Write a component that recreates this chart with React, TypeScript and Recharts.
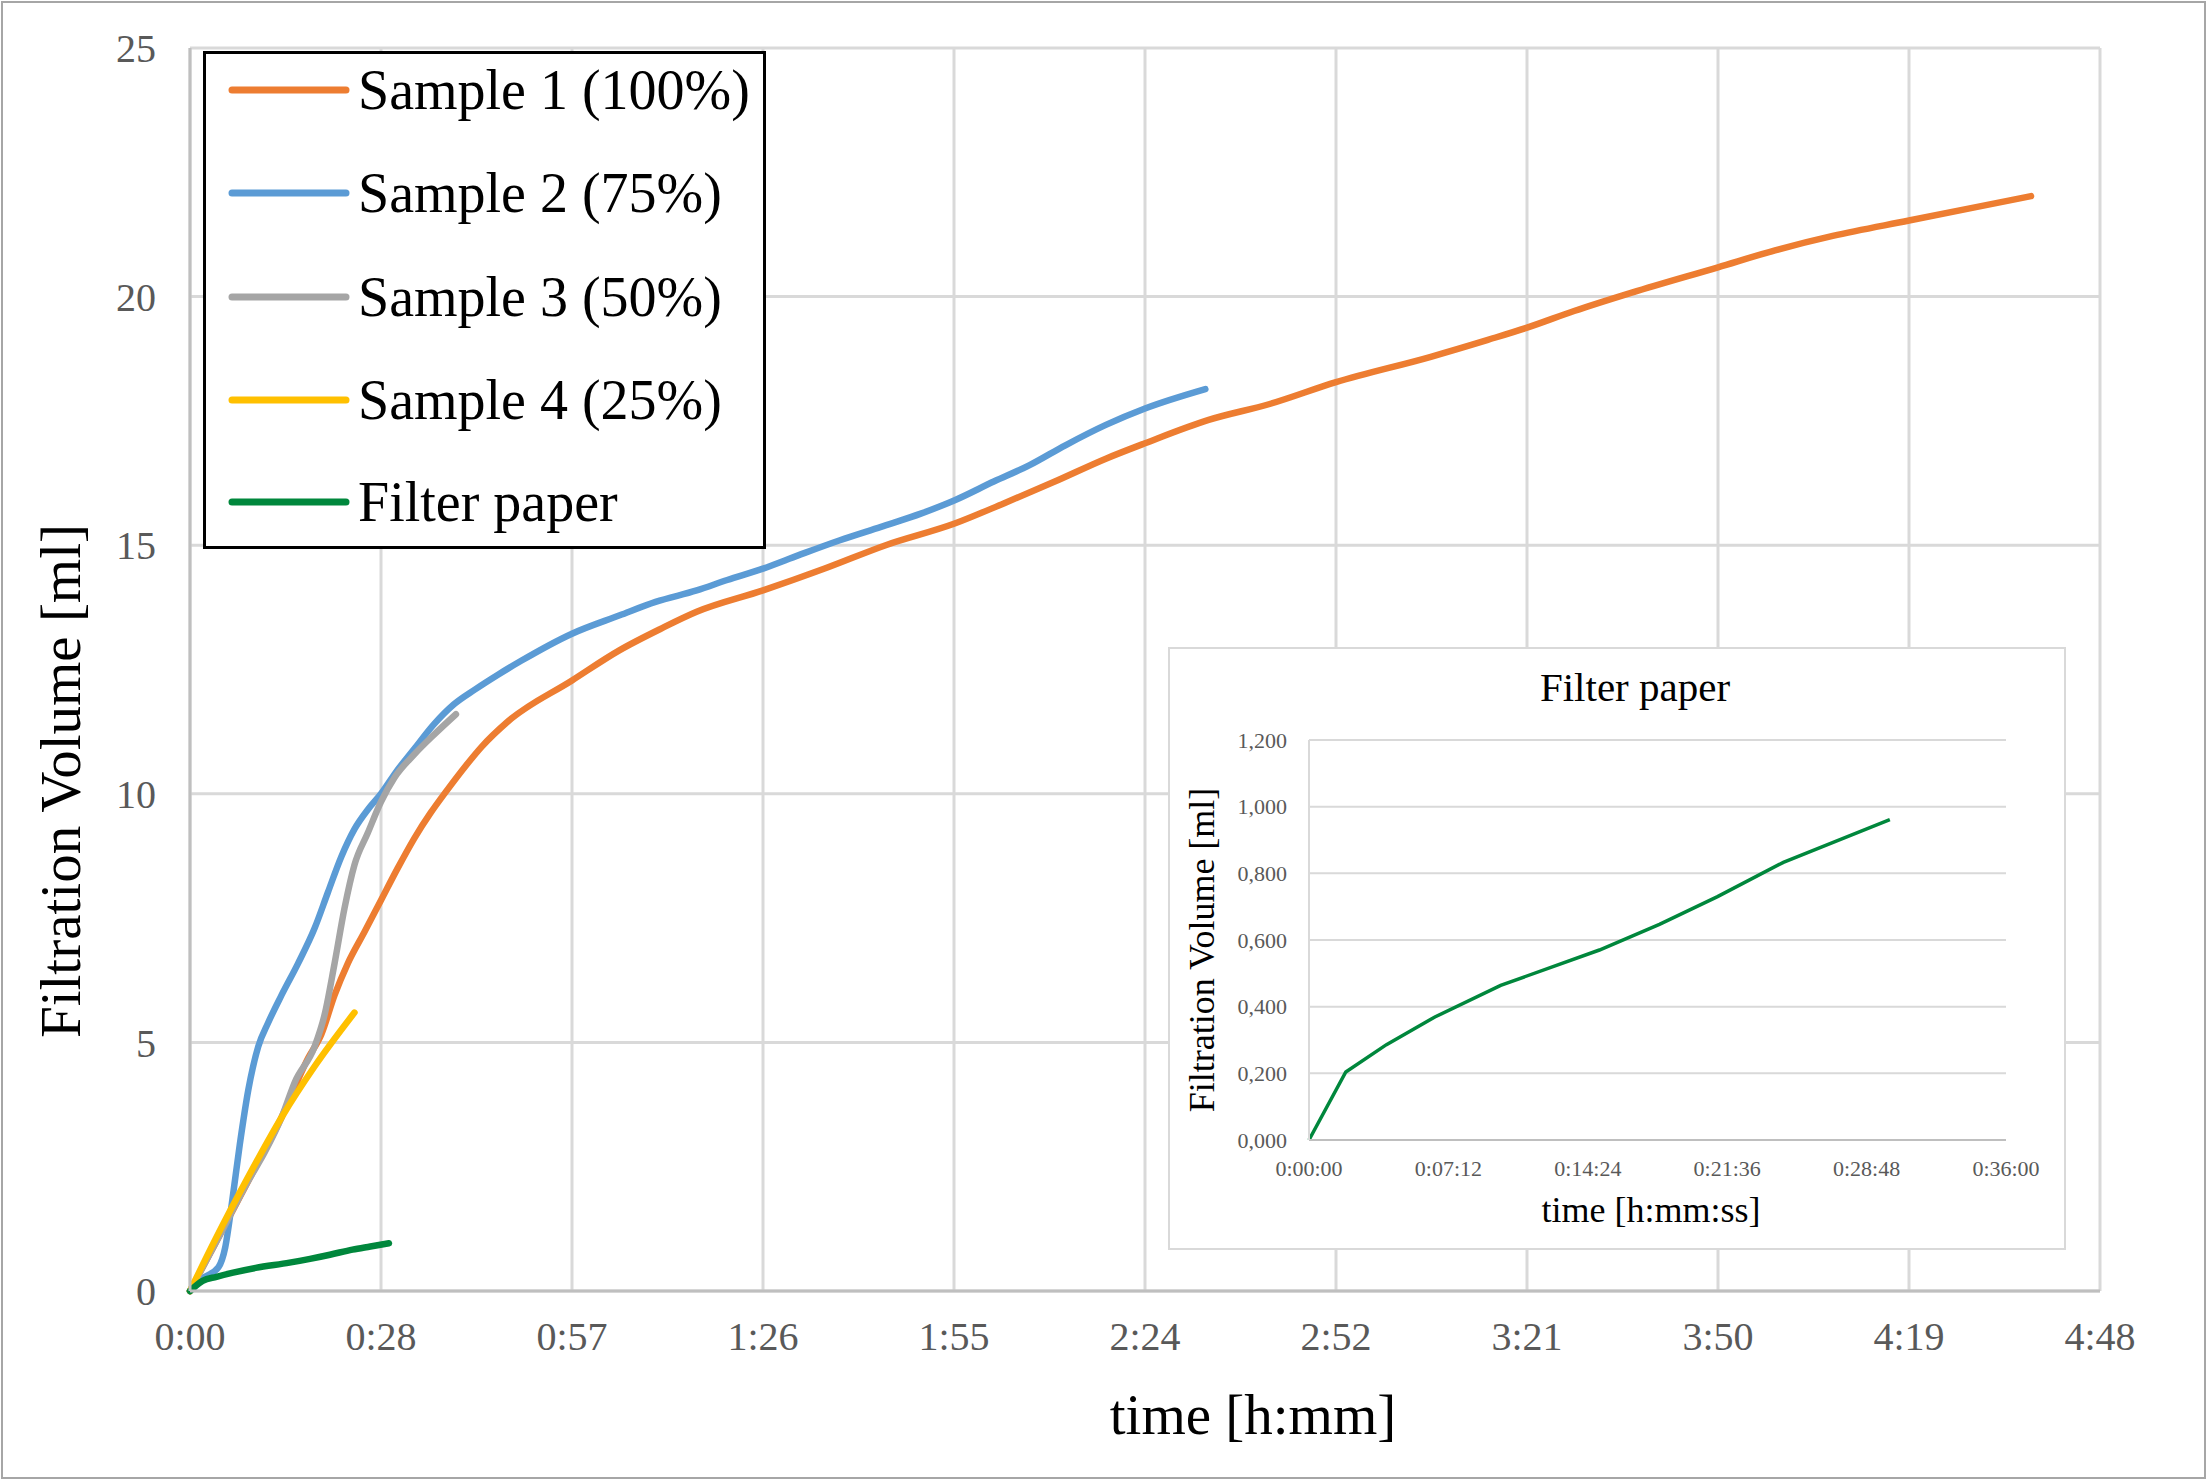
import { LineChart, Line, XAxis, YAxis, CartesianGrid } from 'recharts';

const FONT = "'Liberation Serif', 'Times New Roman', serif";

// time in minutes, volume in ml
const s1Time = [0, 3.8, 8.8, 13.8, 17.8, 19.8, 21.8, 23.8, 26.3, 28.8, 31.3, 33.8, 36.3, 38.8, 41.5, 44, 47.8, 57.6, 64.8, 71, 76.4, 86.4, 95.7, 104.9, 115.4, 122.7, 130.4, 138.1, 144, 153.6, 162.8, 172.8, 187.1, 195.7, 201.5, 208.7, 217.4, 230.4, 239, 247.7, 259.2, 269.3, 277.6];
const s1Vol = [0, 0.95, 2.22, 3.49, 4.68, 5.16, 5.95, 6.59, 7.22, 7.86, 8.5, 9.1, 9.62, 10.08, 10.55, 10.95, 11.44, 12.28, 12.89, 13.32, 13.66, 14.09, 14.53, 15.0, 15.44, 15.84, 16.28, 16.74, 17.05, 17.52, 17.84, 18.28, 18.79, 19.13, 19.37, 19.71, 20.08, 20.59, 20.93, 21.22, 21.53, 21.8, 22.02];

const s2Time = [0, 1.75, 4.3, 5.3, 6.3, 7.5, 8.8, 10.3, 11.8, 13.8, 16.3, 18.8, 20.8, 22.8, 24.8, 26.8, 28.8, 31.3, 33.8, 36.8, 39.8, 43, 46.5, 50, 57.6, 64.8, 70.2, 76.4, 81, 86.4, 91.8, 98, 104.2, 110.3, 115.4, 121.2, 126.6, 132, 138.1, 144, 153.1];
const s2Vol = [0, 0.24, 0.48, 0.87, 1.75, 2.94, 4.05, 4.92, 5.4, 5.95, 6.59, 7.3, 8.02, 8.73, 9.29, 9.68, 10.0, 10.48, 10.9, 11.4, 11.8, 12.1, 12.4, 12.68, 13.22, 13.59, 13.86, 14.09, 14.3, 14.53, 14.8, 15.1, 15.37, 15.64, 15.91, 16.28, 16.61, 17.01, 17.42, 17.75, 18.14];

const s3Time = [0, 3.8, 8.8, 11.3, 13.8, 15.8, 18.8, 20.3, 21.8, 23.3, 24.8, 26.8, 28.8, 30.8, 33.8, 36.8, 40.1];
const s3Vol = [0, 0.95, 2.22, 2.8, 3.49, 4.2, 4.92, 5.56, 6.59, 7.7, 8.57, 9.21, 9.84, 10.32, 10.79, 11.19, 11.6];

const s4Time = [0, 3.8, 8.8, 13.8, 18.8, 24.8];
const s4Vol = [0, 1.03, 2.3, 3.49, 4.52, 5.6];

const paperTime = [0, 1.9, 4.0, 6.5, 9.9, 15.0, 18.1, 21.1, 24.5, 27.2, 30.0];
const paperVol = [0, 0.204, 0.286, 0.369, 0.464, 0.57, 0.647, 0.73, 0.833, 0.896, 0.961];

const seriesNames = ['Sample 1 (100%)', 'Sample 2 (75%)', 'Sample 3 (50%)', 'Sample 4 (25%)', 'Filter paper'];
const seriesColors = ['#ED7D31', '#5B9BD5', '#A5A5A5', '#FFC000', '#00873C'];

const xTicks = [0, 28.8, 57.6, 86.4, 115.2, 144, 172.8, 201.6, 230.4, 259.2, 288];
const yTicks = [0, 5, 10, 15, 20, 25];
const insetXTicks = [0, 7.2, 14.4, 21.6, 28.8, 36];
const insetYTicks = [0, 0.2, 0.4, 0.6, 0.8, 1.0, 1.2];

const zip = (t: number[], v: number[]) => t.map((x, i) => ({ t: x, v: v[i] }));

const series = [
  zip(s1Time, s1Vol),
  zip(s2Time, s2Vol),
  zip(s3Time, s3Vol),
  zip(s4Time, s4Vol),
  zip(paperTime, paperVol),
];

const fmtHM = (m: number) => {
  const h = Math.floor(m / 60);
  const mm = Math.floor(m % 60 + 1e-6);
  return `${h}:${String(mm).padStart(2, '0')}`;
};

const fmtHMS = (m: number) => {
  const s = Math.round(m * 60);
  const h = Math.floor(s / 3600);
  const mm = Math.floor((s % 3600) / 60);
  const ss = s % 60;
  return `${h}:${String(mm).padStart(2, '0')}:${String(ss).padStart(2, '0')}`;
};

const fmtComma = (v: number) => v.toFixed(3).replace('.', ',');

function Legend() {
  const rows = [39, 142, 246, 349, 451];
  return (
    <div
      style={{
        position: 'absolute',
        left: 203,
        top: 51,
        width: 563,
        height: 498,
        border: '3px solid #000',
        background: '#fff',
        boxSizing: 'border-box',
      }}
    >
      <svg width={557} height={492} style={{ position: 'absolute', left: 0, top: 0 }}>
        {seriesNames.map((name, i) => (
          <g key={name}>
            <line x1={26} x2={140} y1={rows[i] - 3} y2={rows[i] - 3} stroke={seriesColors[i]} strokeWidth={7} strokeLinecap="round" />
            <text x={152} y={rows[i] - 3} dominantBaseline="central" fontFamily={FONT} fontSize={56} fill="#000">
              {name}
            </text>
          </g>
        ))}
      </svg>
    </div>
  );
}

function Inset() {
  return (
    <div
      style={{
        position: 'absolute',
        left: 1168,
        top: 647,
        width: 898,
        height: 603,
        border: '2px solid #d9d9d9',
        background: '#fff',
        boxSizing: 'border-box',
      }}
    >
      <LineChart width={894} height={599} margin={{ top: 91, right: 58, bottom: 60, left: 10 }}>
        <CartesianGrid vertical={false} stroke="#d9d9d9" strokeWidth={2} />
        <XAxis
          type="number"
          dataKey="t"
          domain={[0, 36]}
          ticks={insetXTicks}
          interval={0}
          tickFormatter={fmtHMS}
          tickLine={false}
          tickSize={0}
          tickMargin={20}
          height={48}
          axisLine={{ stroke: '#bfbfbf', strokeWidth: 2 }}
          tick={{ fontFamily: FONT, fontSize: 22, fill: '#595959' }}
        />
        <YAxis
          type="number"
          domain={[0, 1.2]}
          ticks={insetYTicks}
          interval={0}
          tickFormatter={fmtComma}
          tickLine={false}
          tickSize={0}
          tickMargin={22}
          width={129}
          axisLine={{ stroke: '#d9d9d9', strokeWidth: 2 }}
          tick={{ fontFamily: FONT, fontSize: 22, fill: '#595959' }}
        />
        <Line
          data={series[4]}
          dataKey="v"
          type="linear"
          stroke={seriesColors[4]}
          strokeWidth={3.5}
          dot={false}
          activeDot={false}
          isAnimationActive={false}
        />
      </LineChart>
      <svg width={894} height={599} style={{ position: 'absolute', left: 0, top: 0, pointerEvents: 'none' }}>
        <text x={465} y={52} textAnchor="middle" fontFamily={FONT} fontSize={41} fill="#000">
          Filter paper
        </text>
        <text x={44} y={301} textAnchor="middle" fontFamily={FONT} fontSize={36} fill="#000" transform="rotate(-90, 44, 301)">
          Filtration Volume [ml]
        </text>
        <text x={481} y={573} textAnchor="middle" fontFamily={FONT} fontSize={36} fill="#000">
          time [h:mm:ss]
        </text>
      </svg>
    </div>
  );
}

export default function App() {
  return (
    <div style={{ position: 'absolute', left: 0, top: 0, width: 2207, height: 1480, background: '#fff' }}>
      <LineChart width={2207} height={1480} margin={{ top: 48, right: 107, bottom: 89, left: 100 }}>
        <CartesianGrid stroke="#d9d9d9" strokeWidth={3} />
        <XAxis
          type="number"
          dataKey="t"
          domain={[0, 288]}
          ticks={xTicks}
          interval={0}
          tickFormatter={fmtHM}
          tickLine={false}
          tickSize={0}
          tickMargin={31}
          height={100}
          axisLine={{ stroke: '#bfbfbf', strokeWidth: 3 }}
          tick={{ fontFamily: FONT, fontSize: 40, fill: '#595959' }}
        />
        <YAxis
          type="number"
          domain={[0, 25]}
          ticks={yTicks}
          interval={0}
          tickLine={false}
          tickSize={0}
          tickMargin={34}
          width={90}
          axisLine={{ stroke: '#bfbfbf', strokeWidth: 3 }}
          tick={{ fontFamily: FONT, fontSize: 40, fill: '#595959' }}
        />
        {series.map((d, i) => (
          <Line
            key={seriesNames[i]}
            data={d}
            dataKey="v"
            name={seriesNames[i]}
            type="monotone"
            stroke={seriesColors[i]}
            strokeWidth={6.5}
            strokeLinecap="round"
            dot={false}
            activeDot={false}
            isAnimationActive={false}
          />
        ))}
      </LineChart>
      <svg width={2207} height={1480} style={{ position: 'absolute', left: 0, top: 0, pointerEvents: 'none' }}>
        <text x={1253} y={1434} textAnchor="middle" fontFamily={FONT} fontSize={57} fill="#000">
          time [h:mm]
        </text>
        <text x={80} y={781} textAnchor="middle" fontFamily={FONT} fontSize={57} fill="#000" transform="rotate(-90, 80, 781)">
          Filtration Volume [ml]
        </text>
      </svg>
      <Legend />
      <Inset />
      <div
        style={{
          position: 'absolute',
          left: 1,
          top: 1,
          width: 2205,
          height: 1478,
          border: '2px solid #a6a6a6',
          boxSizing: 'border-box',
          pointerEvents: 'none',
        }}
      />
    </div>
  );
}
